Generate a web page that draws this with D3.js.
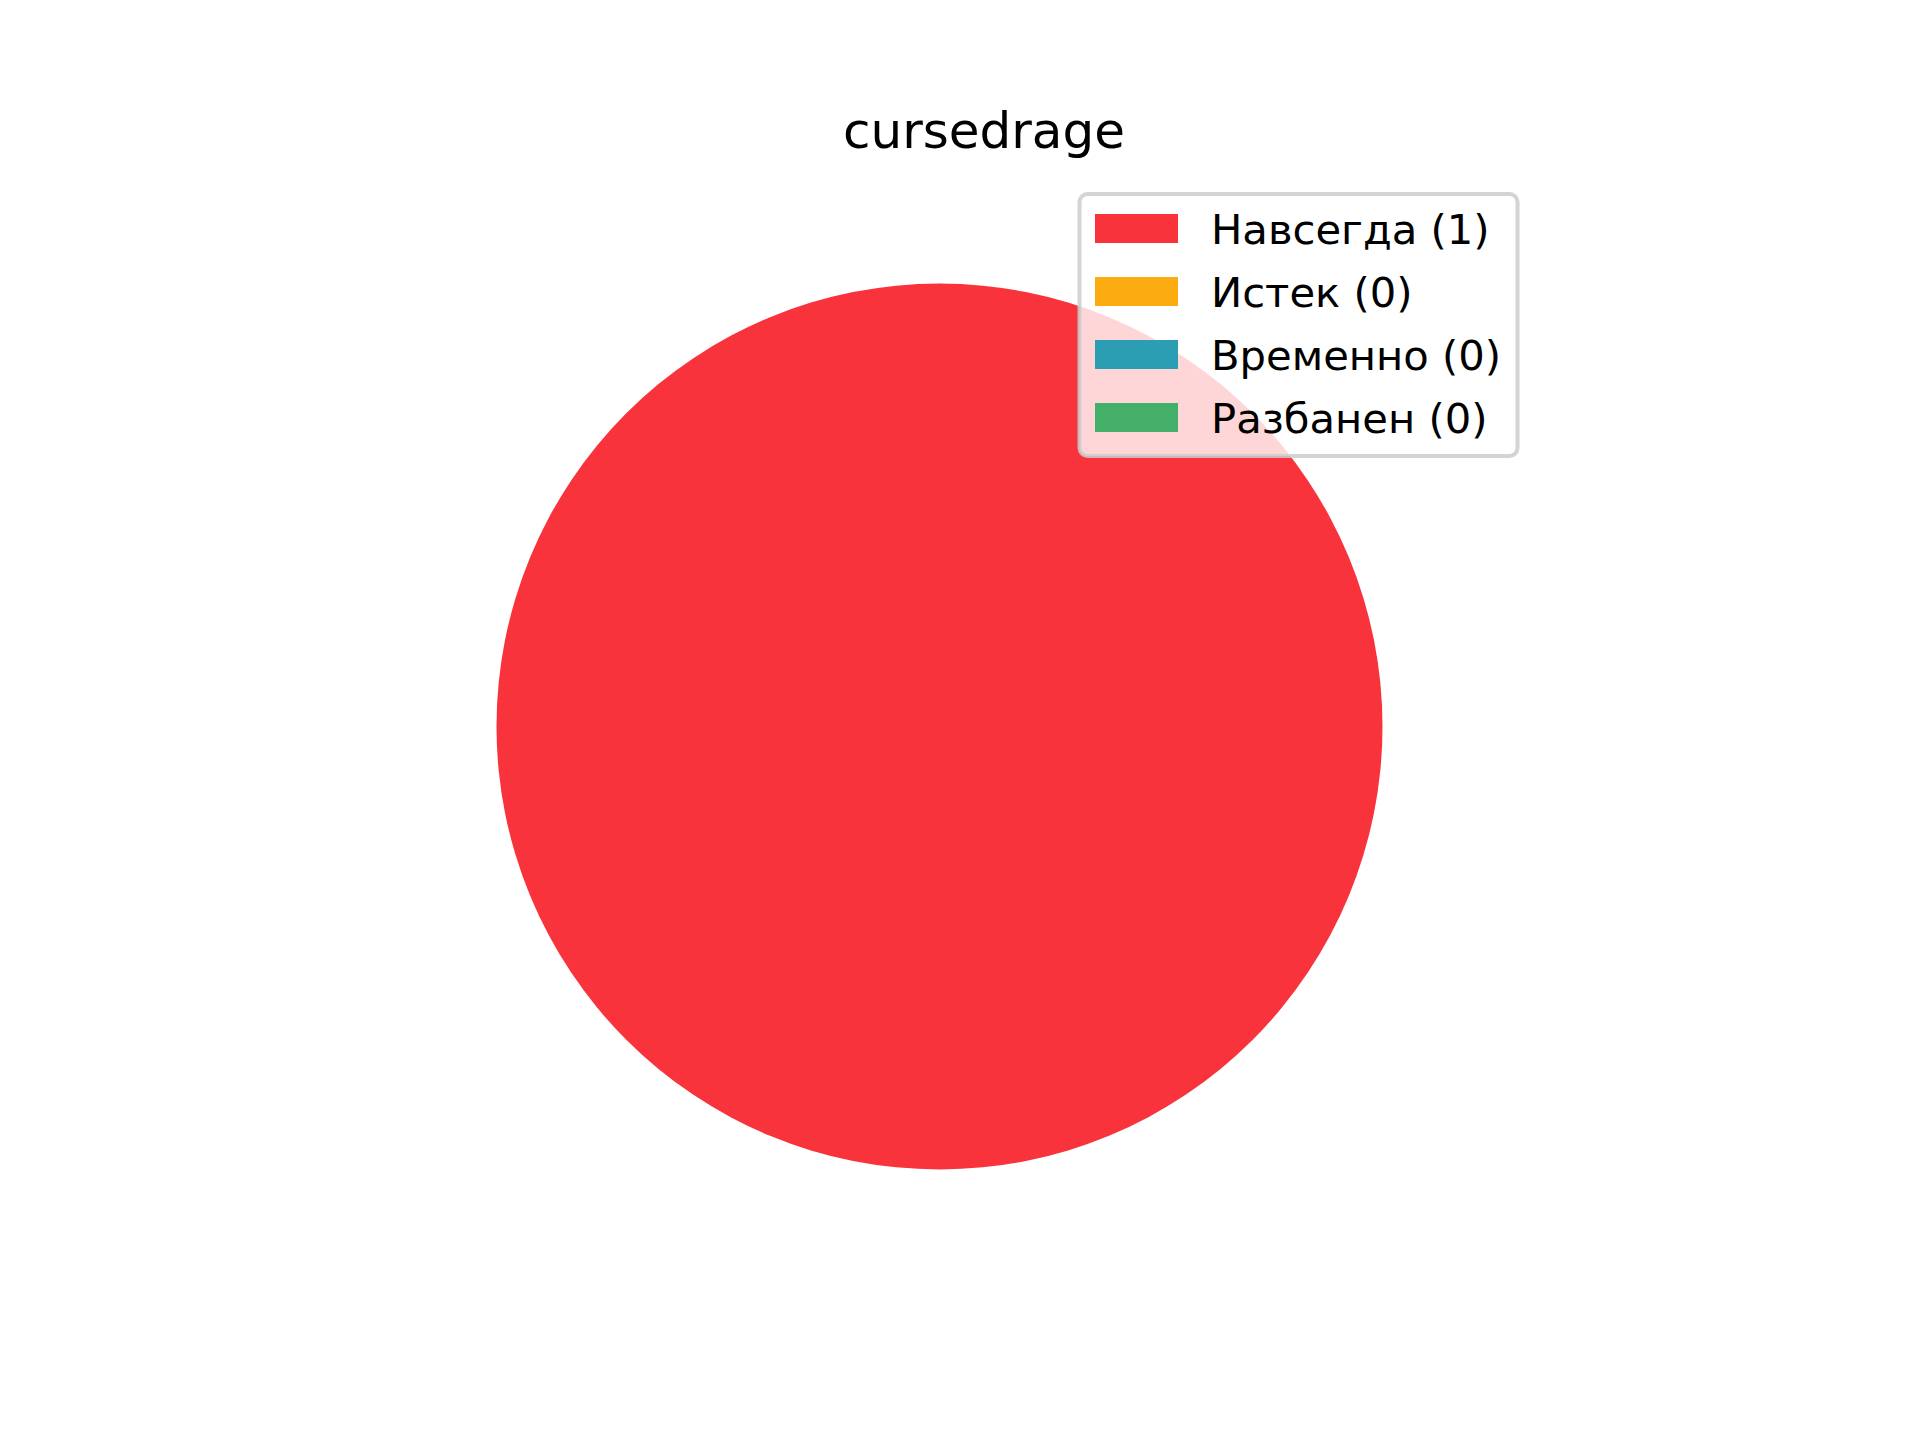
<!DOCTYPE html>
<html>
<head>
<meta charset="utf-8">
<script src="https://cdn.jsdelivr.net/npm/d3@7"></script>
<style>
  body { margin: 0; background: white; }
  text { font-family: "DejaVu Sans", sans-serif; }
</style>
</head>
<body>
<div id="container"></div>
<script>
let w = 1920;
let h = 1440;

// data
let title = "cursedrage";
let labels = ["Навсегда", "Истек", "Временно", "Разбанен"];
let counts = [1, 0, 0, 0];
let colors = ["#F8333C", "#FCAB10", "#2B9EB3", "#44AF69"];

let viz = d3.select("#container").append("svg")
    .attr("width", w)
    .attr("height", h)
    .style("background-color", "white")
;

// title
viz.append("text")
    .attr("x", 984)
    .attr("y", 148)
    .attr("text-anchor", "middle")
    .style("font-size", "50px")
    .attr("fill", "black")
    .text(title);

// pie
let cx = 939.5, cy = 726.5, r = 443;
let color = d3.scaleOrdinal().domain(labels).range(colors);
let pie = d3.pie().sort(null).value(d => d.v)
    .startAngle(Math.PI / 2).endAngle(Math.PI / 2 - 2 * Math.PI);
let arcMaker = d3.arc().innerRadius(0).outerRadius(r);
let data = labels.map((l, i) => ({label: l, v: counts[i]}));

viz.append("g")
    .attr("transform", "translate(" + cx + "," + cy + ")")
  .selectAll(".slice").data(pie(data).filter(d => d.data.v > 0)).enter()
    .append("path")
      .attr("class", "slice")
      .attr("d", arcMaker)
      .attr("fill", d => color(d.data.label))
;

// legend
let legend = viz.append("g");
legend.append("rect")
    .attr("x", 1079.5)
    .attr("y", 194)
    .attr("width", 438)
    .attr("height", 262)
    .attr("rx", 8)
    .attr("fill", "white")
    .attr("fill-opacity", 0.8)
    .attr("stroke", "#cccccc")
    .attr("stroke-opacity", 0.85)
    .attr("stroke-width", 4);

let rowY = d3.scaleLinear().domain([0, 1]).range([244, 307]);
let rows = legend.selectAll(".row").data(data).enter()
    .append("g")
      .attr("class", "row")
      .attr("transform", (d, i) => "translate(0," + rowY(i) + ")");

rows.append("rect")
    .attr("x", 1095)
    .attr("y", -30)
    .attr("width", 83)
    .attr("height", 29)
    .attr("fill", d => color(d.label));

rows.append("text")
    .attr("x", 1211)
    .attr("y", 0)
    .style("font-size", "41.7px")
    .attr("fill", "black")
    .text(d => d.label + " (" + d.v + ")");
</script>
</body>
</html>
